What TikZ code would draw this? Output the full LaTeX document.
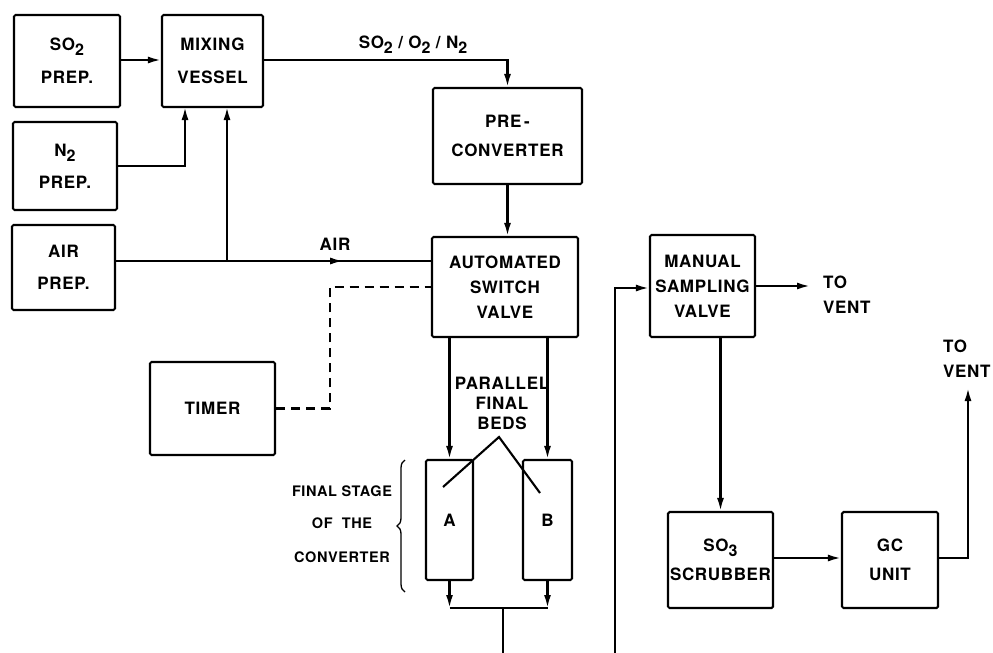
\documentclass[tikz,border=0pt]{standalone}
\usepackage{fontspec}
\setsansfont{TeX Gyre Heros}[LetterSpace=4]
\usetikzlibrary{arrows.meta,decorations.pathreplacing,decorations.markings,calc}
\newcommand{\lowsub}[1]{\raisebox{-0.55ex}{\fontsize{16}{16}\selectfont #1}}
\begin{document}
\begin{tikzpicture}[x=1pt,y=-1pt,
  line width=2.1pt,
  >={Latex[length=13pt,width=7pt]},
  txt/.style={font=\sffamily\bfseries\fontsize{17}{25}\selectfont, align=center, inner sep=0pt},
  blk/.style={draw, rounded corners=1.5pt, txt, minimum width=#1},
  blk/.default=100pt,
  midarrow/.style={postaction={decorate}, decoration={markings, mark=at position #1 with {\arrow{Latex[length=13pt,width=7pt]}}}}
]
\useasboundingbox (0,0) rectangle (993,653);

% boxes
\node[blk=106pt, minimum height=92pt] (so2) at (67,61) {SO\lowsub{2}\\[8pt]PREP.};
\node[blk=101pt, minimum height=92pt] (mix) at (212.5,61) {MIXING\\[8pt]VESSEL};
\node[blk=104pt, minimum height=88pt] (n2) at (65,166) {N\lowsub{2}\\[7pt]PREP.};
\node[blk=103pt, minimum height=85pt] (air) at (63.5,267.5) {AIR\\[7pt]PREP.};
\node[blk=149pt, minimum height=96pt] (pre) at (507.5,136) {PRE\,-\\[4pt]CONVERTER};
\node[blk=146pt, minimum height=100pt] (asv) at (505,287) {AUTOMATED\\SWITCH\\VALVE};
\node[blk=125pt, minimum height=93pt] (timer) at (212.5,408.5) {TIMER};
\node[blk=47pt, minimum height=120pt] (A) at (449.5,520) {A};
\node[blk=49pt, minimum height=120pt] (B) at (547.5,520) {B};
\node[blk=105pt, minimum height=102pt] (msv) at (702.5,286) {MANUAL\\SAMPLING\\VALVE};
\node[blk=105pt, minimum height=96pt] (scr) at (720.5,560) {SO\lowsub{3}\\[4pt]SCRUBBER};
\node[blk=96pt, minimum height=96pt] (gc) at (890,560) {GC\\[4pt]UNIT};

% labels
\node[txt] (lmix) at (413,45) {SO\lowsub{2}~/~O\lowsub{2}~/~N\lowsub{2}};
\node[txt] (lair) at (335,244) {AIR};
\node[txt] (lpar) at (502,403) {PARALLEL\\[-5pt]FINAL\\[-5pt]BEDS};
\node[txt, font=\sffamily\bfseries\fontsize{14.5}{25}\selectfont] (lfs) at (342,524) {FINAL STAGE\\[7pt]OF~~THE\\[9pt]CONVERTER};
\node[txt, align=left, anchor=west] (v1) at (822,295) {TO\\VENT};
\node[txt, align=left, anchor=west] (v2) at (942,359) {TO\\VENT};

% coordinates
\coordinate (n2up) at (185,107);
\coordinate (brA) at (227,261);
\coordinate (airA) at (115,261);
\coordinate (airB) at (432,261);
\coordinate (mixB) at (227,107);
\coordinate (dk) at (330,350);
\coordinate (j) at (503,608);
\coordinate (bot1) at (503,653);
\coordinate (bot2) at (615,653);
\coordinate (ret) at (615,288);
\coordinate (vent1) at (810,286);
\coordinate (vent2) at (968,388);
\coordinate (ptr) at (499,437);
\coordinate (pa) at (443,487);
\coordinate (pb) at (540,493);

% connectors
\draw[->] (so2.east |- 0,60) -- (mix.west |- 0,60);
\draw[->] (n2.east) -| (n2up);
\draw[midarrow=0.72] (airA) -- (airB);
\draw[->] (brA) -- (mixB);
\draw[->] (mix.east |- 0,60) -| (pre.north);
\draw[->] (pre.south) -- (pre.south |- asv.north);
\draw[dashed, dash pattern=on 9pt off 6pt] (timer.east) -| (dk) |- (asv.west);
\draw[->] (asv.south -| A.north) -- (A.north);
\draw[->] (asv.south -| B.north) -- (B.north);
\draw[->] (A.south) -- (A.south |- j);
\draw[->] (B.south) -- (B.south |- j);
\draw (A.south |- j) -- (B.south |- j);
\draw (j) -- (bot1);
\draw[->] (bot2) -- (ret) -- (msv.west |- ret);
\draw[->] (msv.east) -- (vent1);
\draw[->] (scr.north |- msv.south) -- (scr.north);
\draw[->] (scr.east |- 0,558) -- (gc.west |- 0,558);
\draw[->] (gc.east |- 0,558) -| (vent2);
\draw (pa) -- (ptr) -- (pb);
\draw[line width=1.3pt, decorate, decoration={brace, amplitude=8pt}] (405,592) -- (405,460);
\end{tikzpicture}
\end{document}
